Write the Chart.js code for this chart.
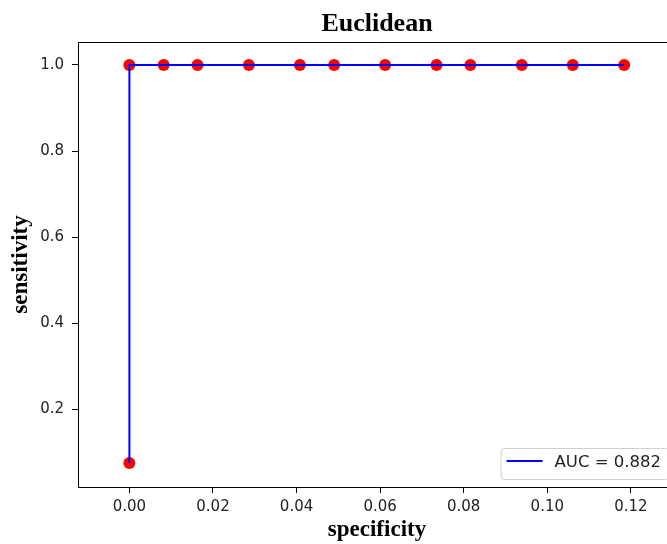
<!DOCTYPE html>
<html>
<head>
<meta charset="utf-8">
<script src="https://cdn.jsdelivr.net/npm/chart.js@4"></script>
<style>
  html, body { margin: 0; padding: 0; background: #fff; overflow: hidden; }
  #wrap { width: 700px; height: 544px; }
</style>
</head>
<body>
<div id="wrap"><canvas id="roc" width="700" height="544"></canvas></div>
<script>
// ROC points
const specificity = [0, 0, 0.0082, 0.0163, 0.0286, 0.0408, 0.049, 0.0612, 0.0735, 0.0816, 0.0939, 0.1061, 0.1184];
const sensitivity = [0.075, 1, 1, 1, 1, 1, 1, 1, 1, 1, 1, 1, 1];
const xTicks = [0, 0.02, 0.04, 0.06, 0.08, 0.10, 0.12];
const yTicks = [0.2, 0.4, 0.6, 0.8, 1.0];
const titleText = "Euclidean";
const aucLabel = "AUC = 0.882";

const puntos = specificity.map((x, i) => ({ x: x, y: sensitivity[i] }));

// marco arriba y a la derecha + titulo centrado sobre el area
const marco = {
  id: "marco",
  afterDraw(chart) {
    const { ctx, chartArea: a } = chart;
    ctx.save();
    ctx.strokeStyle = "#000";
    ctx.lineWidth = 1;
    ctx.beginPath();
    ctx.moveTo(a.left, a.top + 0.5);
    ctx.lineTo(a.right + 0.5, a.top + 0.5);
    ctx.lineTo(a.right + 0.5, a.bottom);
    ctx.stroke();

    ctx.fillStyle = "#000";
    ctx.font = "bold 26px 'Liberation Serif'";
    ctx.textAlign = "center";
    ctx.textBaseline = "alphabetic";
    ctx.fillText(titleText, (a.left + a.right) / 2, 31);
    ctx.restore();
  }
};

// leyenda abajo a la derecha
const leyenda = {
  id: "leyenda",
  afterDraw(chart) {
    const { ctx, chartArea: a } = chart;
    ctx.save();
    ctx.font = "16.5px 'DejaVu Sans'";
    const tw = ctx.measureText(aucLabel).width;
    const w = 6 + 36 + 12 + tw + 8;
    const h = 31;
    const x = a.right - 7 - w;
    const y = a.bottom - 8 - h;
    ctx.beginPath();
    ctx.roundRect(x + 0.5, y + 0.5, w, h, 3);
    ctx.fillStyle = "rgba(255,255,255,0.8)";
    ctx.fill();
    ctx.strokeStyle = "#d0d0d0";
    ctx.lineWidth = 1;
    ctx.stroke();
    ctx.strokeStyle = "#0000ff";
    ctx.lineWidth = 2;
    ctx.beginPath();
    ctx.moveTo(x + 6, y + 13);
    ctx.lineTo(x + 42, y + 13);
    ctx.stroke();
    ctx.fillStyle = "#222";
    ctx.textBaseline = "alphabetic";
    ctx.fillText(aucLabel, x + 54, y + 19);
    ctx.restore();
  }
};

new Chart(document.getElementById("roc"), {
  type: "scatter",
  data: {
    datasets: [
      {
        type: "line",
        label: aucLabel,
        data: puntos,
        borderColor: "#0000ff",
        borderWidth: 2,
        pointRadius: 0,
        tension: 0,
        fill: false,
        order: 0
      },
      {
        label: "puntos",
        data: puntos,
        pointRadius: 6,
        pointBackgroundColor: "#ff0000",
        pointBorderWidth: 0,
        showLine: false,
        order: 1
      }
    ]
  },
  options: {
    responsive: false,
    animation: false,
    devicePixelRatio: 1,
    layout: { padding: { left: 0, right: 24, top: 42, bottom: 0 } },
    plugins: {
      legend: { display: false },
      tooltip: { enabled: false },
      title: { display: false }
    },
    scales: {
      x: {
        type: "linear",
        min: -0.0123,
        max: 0.1308,
        afterBuildTicks: s => { s.ticks = xTicks.map(v => ({ value: v })); },
        afterFit: s => { s.height = 57; },
        border: { color: "#000", width: 1 },
        grid: { drawOnChartArea: false, color: "#000", tickLength: 6 },
        ticks: {
          color: "#222",
          padding: 5,
          maxRotation: 0,
          font: { family: "'DejaVu Sans'", size: 15 },
          callback: v => v.toFixed(2)
        },
        title: {
          display: true,
          text: "specificity",
          color: "#000",
          font: { family: "'Liberation Serif'", size: 23, weight: "bold", lineHeight: 1.2 },
          padding: { top: 0, bottom: 0 }
        }
      },
      y: {
        type: "linear",
        min: 0.019,
        max: 1.0534,
        afterBuildTicks: s => { s.ticks = yTicks.map(v => ({ value: v })); },
        afterFit: s => { s.width = 78; },
        border: { color: "#000", width: 1 },
        grid: { drawOnChartArea: false, color: "#000", tickLength: 6 },
        ticks: {
          color: "#222",
          padding: 8,
          font: { family: "'DejaVu Sans'", size: 15 },
          callback: v => v.toFixed(1)
        },
        title: {
          display: true,
          text: "sensitivity",
          color: "#000",
          font: { family: "'Liberation Serif'", size: 23, weight: "bold", lineHeight: 1.2 },
          padding: { top: 7, bottom: 0 }
        }
      }
    }
  },
  plugins: [marco, leyenda]
});
</script>
</body>
</html>
